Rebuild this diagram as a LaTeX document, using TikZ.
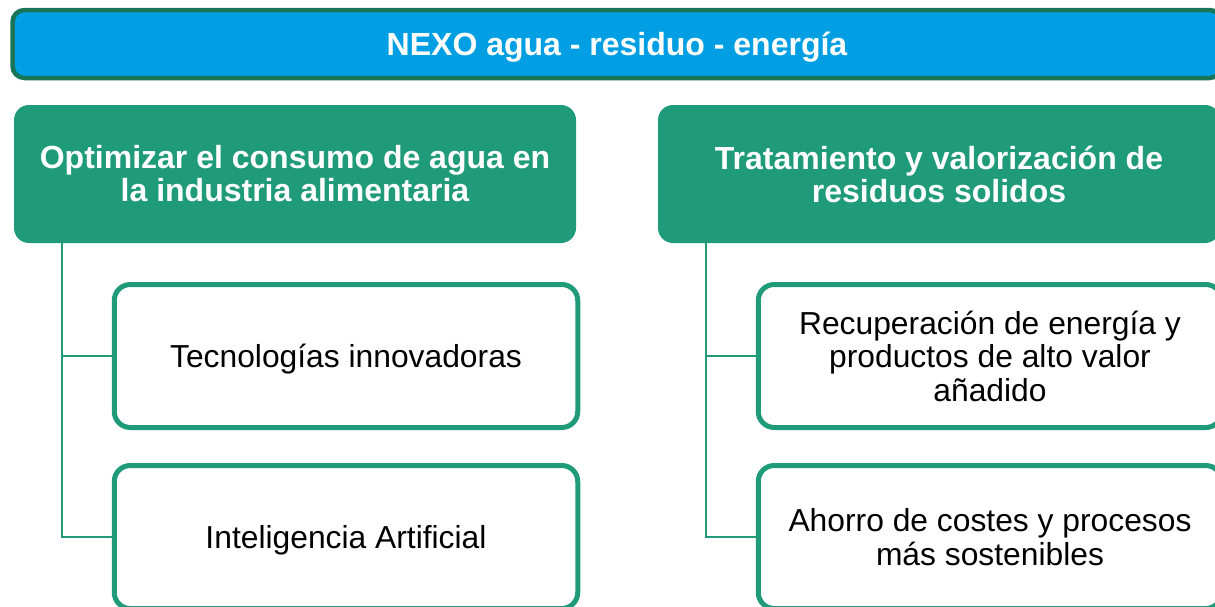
\documentclass[tikz,border=0pt]{standalone}
\usepackage{fontspec}
\setmainfont{Liberation Sans}
\usetikzlibrary{positioning}
\definecolor{nexoblue}{RGB}{0,159,227}
\definecolor{nexodark}{RGB}{24,117,88}
\definecolor{nexogreen}{RGB}{31,155,121}

\begin{document}
\begin{tikzpicture}[x=0.5pt,y=-0.5pt,
  titlebar/.style={draw=nexodark,line width=2.25pt,fill=nexoblue,rounded corners=6pt,
    minimum width=604.5pt,minimum height=34pt,text=white,text depth=0pt,
    font=\bfseries\fontsize{16}{16.5}\selectfont},
  headbox/.style={fill=nexogreen,rounded corners=7.5pt,minimum width=281pt,minimum height=69pt,
    align=center,text=white,font=\bfseries\fontsize{16}{16.5}\selectfont},
  itembox/.style={draw=nexogreen,line width=2.5pt,fill=white,rounded corners=8pt,
    minimum width=231.75pt,minimum height=71.5pt,align=center,
    font=\fontsize{15.9}{16.75}\selectfont},
  oneline/.style={itembox,text depth=0pt},
  link/.style={draw=nexogreen,line width=1pt}]
      \useasboundingbox (0,0) rectangle (1215,606);
      \clip (0,0) rectangle (1215,606);
      \node[titlebar] (nexo) at (617,44) {NEXO agua - residuo - energía};
      \node[headbox] (agua) at (295,174) {Optimizar el consumo de agua en\\la industria alimentaria};
      \node[headbox] (resid) at (939,174) {Tratamiento y valorización de\\residuos solidos};
      \path (agua.south west) ++(48,0) coordinate (trAgua);
      \path (resid.south west) ++(48,0) coordinate (trResid);
      \draw[link] (trAgua) |- (346,537);
      \draw[link] (trResid) |- (990,537);
      \node[oneline] (tecno) at (346,356) {Tecnologías innovadoras};
      \node[oneline] (ia) at (346,537) {Inteligencia Artificial};
      \node[itembox] (recup) at (990,356) {Recuperación de energía y\\productos de alto valor\\añadido};
      \node[itembox] (ahorro) at (990,537) {Ahorro de costes y procesos\\más sostenibles};
      \draw[link] (trAgua) |- (tecno.west);
      \draw[link] (trResid) |- (recup.west);
\end{tikzpicture}
\end{document}
